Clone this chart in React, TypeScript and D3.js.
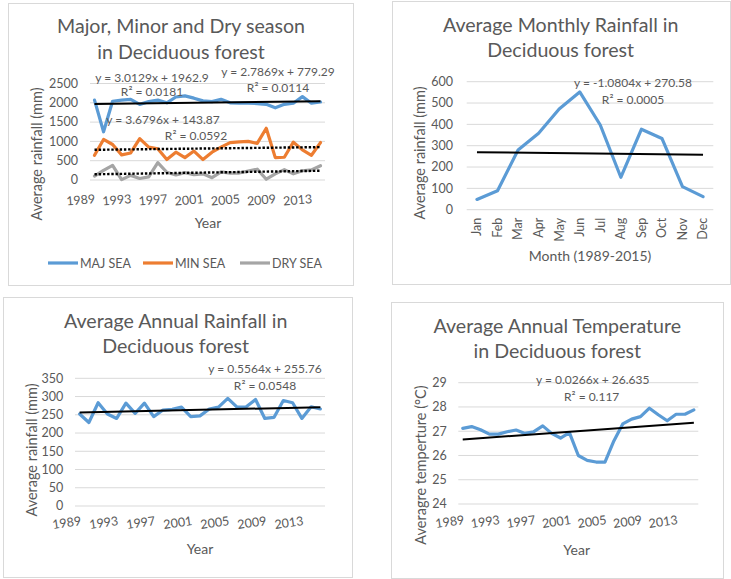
import React from 'react';
import * as d3 from 'd3';

// categories
const seasonYears = ['1989', '1990', '1991', '1992', '1993', '1994', '1995', '1996', '1997', '1998', '1999', '2000', '2001',
  '2002', '2003', '2004', '2005', '2006', '2007', '2008', '2009', '2010', '2011', '2012', '2013', '2014'];
const annualYears = ['1989', '1990', '1991', '1992', '1993', '1994', '1995', '1996', '1997', '1998', '1999', '2000', '2001',
  '2002', '2003', '2004', '2005', '2006', '2007', '2008', '2009', '2010', '2011', '2012', '2013', '2014', '2015'];
const months = ['Jan', 'Feb', 'Mar', 'Apr', 'May', 'Jun', 'Jul', 'Aug', 'Sep', 'Oct', 'Nov', 'Dec'];

// series (mm, °C)
const majSea = [2070, 1250, 2040, 2070, 2090, 1960, 2030, 2070, 2000, 2150, 2180, 2120, 2050, 2030, 2090, 2000, 1990, 1990,
  1980, 1960, 1870, 1960, 1990, 2160, 1990, 2020];
const minSea = [640, 1050, 920, 650, 700, 1070, 850, 810, 530, 720, 580, 750, 530, 720, 850, 970, 990, 1000, 950, 1340,
  580, 590, 980, 780, 640, 970];
const drySea = [100, 250, 380, 10, 120, 40, 80, 450, 200, 130, 190, 140, 160, 60, 210, 180, 180, 230, 280, 20, 160, 270,
  160, 240, 260, 370];
const monthlyRain = [48, 89, 280, 358, 472, 552, 397, 152, 377, 334, 108, 61];
const annualRain = [252, 229, 283, 252, 240, 282, 254, 282, 245, 263, 265, 271, 245, 247, 266, 271, 295, 271, 272, 292,
  240, 243, 289, 283, 240, 272, 266];
const annualTemp = [27.12, 27.19, 27.06, 26.88, 26.88, 26.98, 27.05, 26.91, 26.98, 27.22, 26.91, 26.72, 26.94, 26.0, 25.8,
  25.73, 25.73, 26.6, 27.3, 27.5, 27.6, 27.95, 27.68, 27.43, 27.7, 27.7, 27.88];

// trendline coefficients (y = slope * x + intercept, x = 1..n)
const majTrend = [3.0129, 1962.9];
const minTrend = [2.7869, 779.29];
const dryTrend = [3.6796, 143.87];
const monthlyTrend = [-1.0804, 270.58];
const annualRainTrend = [0.5564, 255.76];
const annualTempTrend = [0.0266, 26.635];

// tick labels
const seasonTicks = [0, 500, 1000, 1500, 2000, 2500];
const monthlyTicks = [0, 100, 200, 300, 400, 500, 600];
const annualRainTicks = [0, 50, 100, 150, 200, 250, 300, 350];
const tempTicks = [24, 25, 26, 27, 28, 29];

const FONT = 'Lato, "DejaVu Sans", sans-serif';
const TXT = '#595959';
const GRID = '#d9d9d9';
const BLUE = '#5b9bd5';
const ORANGE = '#ed7d31';
const GREY = '#a5a5a5';

const LineChart = ({ spec }: { spec: any }) => {
  const { frame, plot, categories } = spec;
  const x = d3.scalePoint<string>().domain(categories).range([plot.left, plot.right]).padding(0.5);
  const y = d3.scaleLinear().domain(spec.yDomain).range([plot.bottom, plot.top]);
  const line = d3.line<number>()
    .x((_, i) => x(categories[i])!)
    .y(d => y(d));
  const n = categories.length;
  const lb = spec.xLabels;

  return (
    <g fontFamily={FONT} fill={TXT}>
      <rect x={frame.x + 0.5} y={frame.y + 0.5} width={frame.w} height={frame.h} fill="#fff" stroke={GRID} />

      {spec.yTicks.map((t: number) => (
        <g key={t}>
          <line x1={plot.left} x2={plot.right} y1={y(t)} y2={y(t)} stroke={GRID} strokeWidth={1} />
          <text x={spec.yTickRight} y={y(t)} dy="0.35em" textAnchor="end" fontSize={12.5}>{t}</text>
        </g>
      ))}

      {spec.series.map((s: any) => (
        <path key={s.name} d={line(s.values)!} fill="none" stroke={s.color} strokeWidth={3.2}
          strokeLinejoin="round" strokeLinecap="round" />
      ))}

      {spec.trends.map((t: any, i: number) => (
        <line key={i}
          x1={x(categories[0])} y1={y(t.coef[0] * 1 + t.coef[1])}
          x2={x(categories[n - 1])} y2={y(t.coef[0] * n + t.coef[1])}
          stroke="#000" strokeWidth={t.dotted ? 2.4 : 2}
          strokeDasharray={t.dotted ? '2.4,1.8' : undefined} />
      ))}

      {categories.map((c: string, i: number) => (i % lb.every === 0 ? (
        <text key={c} transform={`translate(${x(c)! + lb.dx},${plot.bottom + lb.dy}) rotate(${lb.angle})`}
          textAnchor="end" dy={lb.angle === -90 ? '0.35em' : 0} fontSize={12.5}>{c}</text>
      ) : null))}

      {spec.title.map((t: string, i: number) => (
        <text key={t} x={spec.titleX} y={spec.titleY[i]} textAnchor="middle" fontSize={19.6}>{t}</text>
      ))}

      <text transform={`translate(${spec.yTitle.x},${spec.yTitle.y}) rotate(-90)`} dy="0.35em"
        textAnchor="middle" fontSize={14.5}>{spec.yTitle.text}</text>
      <text x={spec.xTitle.x} y={spec.xTitle.y} textAnchor="middle" fontSize={14}>{spec.xTitle.text}</text>

      {spec.notes.map((nt: any) => (
        <text key={nt.text} x={nt.x} y={nt.y} textAnchor="middle" fontSize={12}>{nt.text}</text>
      ))}

      {spec.legend && spec.legend.map((l: any) => (
        <g key={l.name}>
          <line x1={l.x} x2={l.x + 30} y1={263} y2={263} stroke={l.color} strokeWidth={3.2} />
          <text x={l.x + 32} y={267.5} fontSize={12.5}>{l.name}</text>
        </g>
      ))}
    </g>
  );
};

const seasonSpec = {
  frame: { x: 8, y: 3, w: 345, h: 282 },
  plot: { left: 90, right: 325, top: 83.5, bottom: 180 },
  categories: seasonYears,
  xLabels: { every: 4, angle: -5, dx: 1, dy: 23 },
  yDomain: [0, 2500],
  yTicks: seasonTicks,
  yTickRight: 78,
  title: ['Major, Minor and Dry season', 'in Deciduous forest'],
  titleX: 181,
  titleY: [33, 59],
  yTitle: { text: 'Average rainfall (mm)', x: 37, y: 154 },
  xTitle: { text: 'Year', x: 208, y: 228 },
  series: [
    { name: 'MAJ SEA', values: majSea, color: BLUE },
    { name: 'MIN SEA', values: minSea, color: ORANGE },
    { name: 'DRY SEA', values: drySea, color: GREY },
  ],
  trends: [
    { coef: majTrend, dotted: false },
    { coef: minTrend, dotted: true },
    { coef: dryTrend, dotted: true },
  ],
  notes: [
    { text: 'y = 3.0129x + 1962.9', x: 152, y: 81.5 },
    { text: 'R² = 0.0181', x: 152, y: 96 },
    { text: 'y = 2.7869x + 779.29', x: 278, y: 75.5 },
    { text: 'R² = 0.0114', x: 278, y: 91.5 },
    { text: 'y = 3.6796x + 143.87', x: 163, y: 123.5 },
    { text: 'R² = 0.0592', x: 196, y: 139.5 },
  ],
  legend: [
    { name: 'MAJ SEA', color: BLUE, x: 48 },
    { name: 'MIN SEA', color: ORANGE, x: 143 },
    { name: 'DRY SEA', color: GREY, x: 240 },
  ],
};

const monthlySpec = {
  frame: { x: 392, y: 1, w: 338, h: 283 },
  plot: { left: 466.7, right: 713.3, top: 81.7, bottom: 209.7 },
  categories: months,
  xLabels: { every: 1, angle: -90, dx: 0, dy: 8 },
  yDomain: [0, 600],
  yTicks: monthlyTicks,
  yTickRight: 453,
  title: ['Average Monthly Rainfall in', 'Deciduous forest'],
  titleX: 560.7,
  titleY: [31.7, 57.3],
  yTitle: { text: 'Average rainfall (mm)', x: 420, y: 153 },
  xTitle: { text: 'Month (1989-2015)', x: 590, y: 261 },
  series: [{ name: 'monthly', values: monthlyRain, color: BLUE }],
  trends: [{ coef: monthlyTrend, dotted: false }],
  notes: [
    { text: 'y = -1.0804x + 270.58', x: 633, y: 87 },
    { text: 'R² = 0.0005', x: 633, y: 103.6 },
  ],
};

const annualRainSpec = {
  frame: { x: 3, y: 297, w: 349, h: 280 },
  plot: { left: 75, right: 325, top: 378.3, bottom: 506 },
  categories: annualYears,
  xLabels: { every: 4, angle: -8, dx: 2, dy: 19 },
  yDomain: [0, 350],
  yTicks: annualRainTicks,
  yTickRight: 63.3,
  title: ['Average Annual Rainfall in', 'Deciduous forest'],
  titleX: 175.7,
  titleY: [328.3, 353.3],
  yTitle: { text: 'Average rainfall (mm)', x: 31.7, y: 450 },
  xTitle: { text: 'Year', x: 200, y: 554.3 },
  series: [{ name: 'annual', values: annualRain, color: BLUE }],
  trends: [{ coef: annualRainTrend, dotted: false }],
  notes: [
    { text: 'y = 0.5564x + 255.76', x: 265, y: 373.3 },
    { text: 'R² = 0.0548', x: 265, y: 390 },
  ],
};

const tempSpec = {
  frame: { x: 391, y: 302, w: 332, h: 276 },
  plot: { left: 458.3, right: 698.3, top: 382.7, bottom: 504 },
  categories: annualYears,
  xLabels: { every: 4, angle: -8, dx: 2, dy: 20 },
  yDomain: [24, 29],
  yTicks: tempTicks,
  yTickRight: 446.7,
  title: ['Average Annual Temperature', 'in Deciduous forest'],
  titleX: 557.3,
  titleY: [332.7, 358.3],
  yTitle: { text: 'Averagre temperture (°C)', x: 420.7, y: 465 },
  xTitle: { text: 'Year', x: 576.7, y: 555 },
  series: [{ name: 'temp', values: annualTemp, color: BLUE }],
  trends: [{ coef: annualTempTrend, dotted: false }],
  notes: [
    { text: 'y = 0.0266x + 26.635', x: 592.7, y: 384 },
    { text: 'R² = 0.117', x: 591.7, y: 400.7 },
  ],
};

export default function App() {
  return (
    <svg width={731} height={579} style={{ position: 'absolute', left: 0, top: 0, background: '#fff' }}>
      <rect width={731} height={579} fill="#fff" />
      <LineChart spec={seasonSpec} />
      <LineChart spec={monthlySpec} />
      <LineChart spec={annualRainSpec} />
      <LineChart spec={tempSpec} />
    </svg>
  );
}
